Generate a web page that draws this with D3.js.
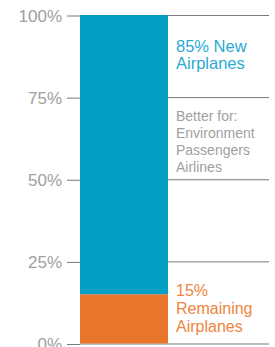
<!DOCTYPE html>
<html>
<head>
<meta charset="utf-8">
<script src="https://cdn.jsdelivr.net/npm/d3@7"></script>
<style>
  body { margin: 0; background: #fff; }
  svg text { font-family: "Liberation Sans", Arial, sans-serif; }
</style>
</head>
<body>
<svg width="275" height="347"></svg>
<script>
var segments = ["Remaining Airplanes", "New Airplanes"];
var shares = [0.15, 0.85];
var colors = ["#e8762b", "#069fc4"];
var tickValues = [0, 0.25, 0.5, 0.75, 1];
var newLabel = ["85% New", "Airplanes"];
var betterLabel = ["Better for:", "Environment", "Passengers", "Airlines"];
var remainLabel = ["15%", "Remaining", "Airplanes"];

var svg = d3.select("svg"),
    margin = {top: 15, right: 6, bottom: 3.5, left: 80},
    width = +svg.attr("width") - margin.left - margin.right,
    height = +svg.attr("height") - margin.top - margin.bottom,
    g = svg.append("g").attr("transform", "translate(" + margin.left + "," + margin.top + ")");

var y = d3.scaleLinear().domain([0, 1]).range([height, 0]);
var x = d3.scaleBand().domain(["fleet"]).range([0, 88]);

// grid lines (the bar covers the left part)
g.append("g")
    .selectAll("line")
    .data(tickValues)
    .enter().append("line")
    .attr("x1", 0)
    .attr("x2", width)
    .attr("y1", function (d) { return y(d) + 0.5; })
    .attr("y2", function (d) { return y(d) + 0.5; })
    .attr("stroke", "#7a7a7a")
    .attr("stroke-width", 1);

var axis = g.append("g")
    .call(d3.axisLeft(y).tickValues(tickValues).tickSize(13).tickPadding(5).tickFormat(d3.format(".0%")));
axis.select(".domain").remove();
axis.selectAll(".tick line").attr("stroke", "#7a7a7a").attr("transform", "translate(0,0.5)");
axis.selectAll(".tick text")
    .attr("fill", "#a0a0a0")
    .attr("font-size", 17)
    .attr("dy", "0.37em");

// stacked bar
var stack = [];
var acc = 0;
shares.forEach(function (s, i) {
    stack.push({name: segments[i], y0: acc, y1: acc + s, color: colors[i]});
    acc += s;
});

g.selectAll("rect.seg")
    .data(stack)
    .enter().append("rect")
    .attr("class", "seg")
    .attr("x", x("fleet"))
    .attr("width", x.bandwidth())
    .attr("y", function (d) { return y(d.y1); })
    .attr("height", function (d) { return y(d.y0) - y(d.y1); })
    .attr("fill", function (d) { return d.color; });

// labels
var lx = x.bandwidth() + 8;
function block(lines, v, size, color, step) {
    g.append("text")
        .attr("x", lx)
        .attr("y", y(v))
        .attr("font-size", size)
        .attr("fill", color)
        .selectAll("tspan")
        .data(lines)
        .enter().append("tspan")
        .attr("x", lx)
        .attr("dy", function (d, i) { return i === 0 ? 0 : step; })
        .text(function (d) { return d; });
}
block(newLabel, 0.888, 16.5, "#2aaad4", 17);
block(betterLabel, 0.678, 14, "#a0a0a0", 17);
block(remainLabel, 0.1437, 16, "#ee8540", 18);
</script>
</body>
</html>
